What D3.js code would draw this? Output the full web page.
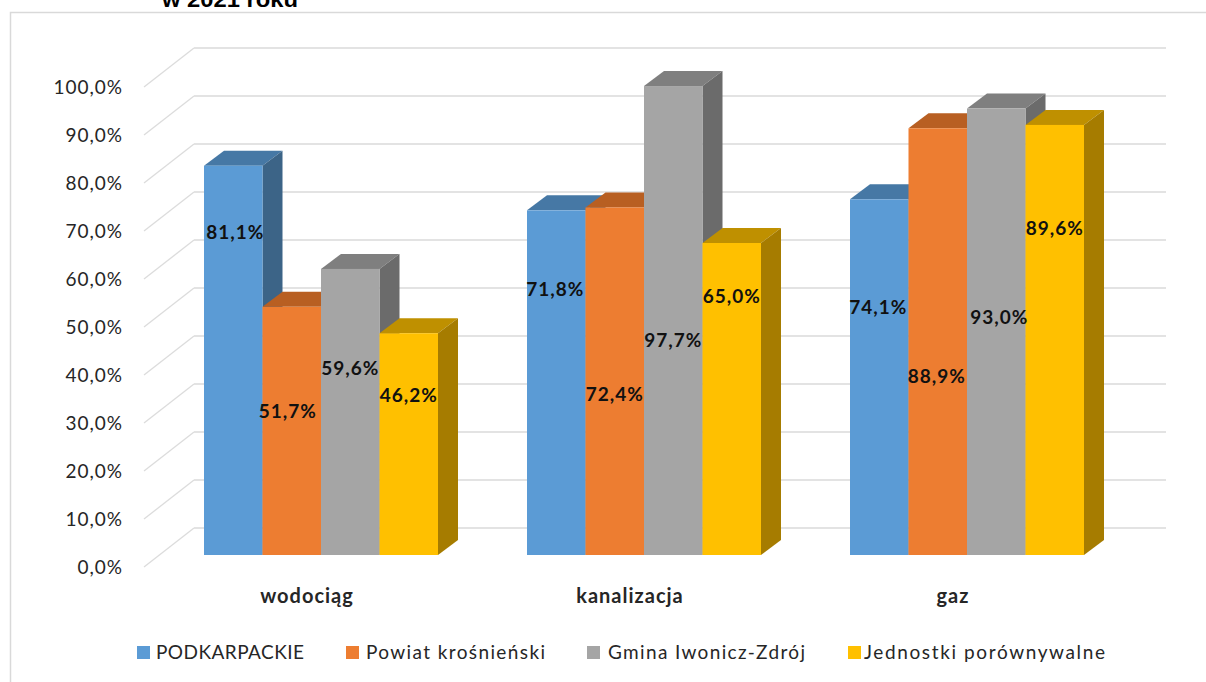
<!DOCTYPE html>
<html>
<head>
<meta charset="utf-8">
<script src="https://cdn.jsdelivr.net/npm/d3@7"></script>
<style>
  html, body { margin: 0; padding: 0; background: #fff; }
  svg { display: block; }
  text { font-family: Lato, sans-serif; fill: #262626; }
</style>
</head>
<body>
<svg id="chart" width="1206" height="682"></svg>
<script>
const categories = ["wodociąg", "kanalizacja", "gaz"];
const seriesNames = ["PODKARPACKIE", "Powiat krośnieński", "Gmina Iwonicz-Zdrój", "Jednostki porównywalne"];
const podkarpackie = [81.1, 71.8, 74.1];
const powiat = [51.7, 72.4, 88.9];
const gmina = [59.6, 97.7, 93.0];
const jednostki = [46.2, 65.0, 89.6];
const tickValues = d3.range(0, 101, 10);

const allSeries = [podkarpackie, powiat, gmina, jednostki];

// the labels were moved by hand in the original, so each has its own height (axis units)
const labelLevels = [
    [67.3, 55.4, 51.5],
    [30.0, 33.5, 37.3],
    [38.8, 44.8, 49.6],
    [33.3, 53.8, 68.1]
];
const labelNudgeX = [
    [2, -1, -1],
    [-4, 0, -1],
    [0, 0, 3],
    [0, 0, 0]
];

const colors = [
    { front: "#5b9bd5", top: "#4678a5", side: "#3c6487" },
    { front: "#ed7d31", top: "#b85f22", side: "#a9561f" },
    { front: "#a5a5a5", top: "#7f7f7f", side: "#6b6b6b" },
    { front: "#ffc000", top: "#bf9000", side: "#a67c00" }
];

const legendX = [137, 346, 587, 848];
const legendTextX = [156, 366, 608, 864];
const legendTextW = [148, 179, 197, 241];

const svg = d3.select("#chart");

const y = d3.scaleLinear().domain([0, 100]).range([567, 87]);
const x0 = d3.scaleBand().domain(categories).range([159.5, 1128.5]);
const x1 = d3.scaleBand().domain(d3.range(4)).range([44.5, 278.5]);

// 3D offsets
const wallDx = 50, wallDy = -39;
const barShiftY = -12;
const depthDx = 20, depthDy = -15;
const wallRight = 1166;

// chart frame, cut by the page edges like in the screenshot
svg.append("path")
    .attr("d", "M10.5,682V12.5H1206")
    .attr("fill", "none")
    .attr("stroke", "#d9d9d9")
    .attr("stroke-width", 1.5);

// title leftover at the top
svg.append("text")
    .attr("x", 162)
    .attr("y", 7)
    .attr("textLength", 136)
    .attr("lengthAdjust", "spacingAndGlyphs")
    .style("font-family", "'Liberation Sans'")
    .style("font-weight", "bold")
    .style("font-size", "22px")
    .style("fill", "#000")
    .text("w 2021 roku");

// grid
const grid = svg.append("g");
tickValues.forEach(t => {
    const backY = y(t) + wallDy;
    grid.append("path")
        .attr("d", d3.line()([[144, y(t)], [144 + wallDx, backY]]))
        .attr("stroke", "#dcdcdc")
        .attr("stroke-width", 1.3);
    grid.append("path")
        .attr("d", d3.line()([[144 + wallDx, backY], [wallRight, backY]]))
        .attr("stroke", "#e3e3e3")
        .attr("stroke-width", 2);
});

// y labels
svg.append("g").selectAll("text")
    .data(tickValues)
    .join("text")
    .attr("x", 123)
    .attr("y", d => y(d))
    .attr("dy", "0.35em")
    .attr("text-anchor", "end")
    .style("font-size", "19px")
    .style("letter-spacing", "1px")
    .text(d => d.toFixed(1).replace(".", ",") + "%");

// bars, drawn left to right so each one covers the neighbour's side
const bars = svg.append("g");
categories.forEach((cat, c) => {
    allSeries.forEach((values, s) => {
        const left = x0(cat) + x1(s);
        const right = left + x1.bandwidth();
        const base = y(0) + barShiftY;
        const top = y(values[c]) + barShiftY;
        const col = colors[s];

        bars.append("path")
            .attr("d", `M${left},${top}L${left + depthDx},${top + depthDy}L${right + depthDx},${top + depthDy}L${right},${top}Z`)
            .attr("fill", col.top);
        bars.append("path")
            .attr("d", `M${right},${top}L${right + depthDx},${top + depthDy}L${right + depthDx},${base + depthDy}L${right},${base}Z`)
            .attr("fill", col.side);
        bars.append("rect")
            .attr("x", left)
            .attr("y", top)
            .attr("width", x1.bandwidth())
            .attr("height", base - top)
            .attr("fill", col.front);
    });
});

// data labels
const labels = svg.append("g");
categories.forEach((cat, c) => {
    allSeries.forEach((values, s) => {
        labels.append("text")
            .attr("x", x0(cat) + x1(s) + x1.bandwidth() / 2 + labelNudgeX[s][c])
            .attr("y", y(labelLevels[s][c]) + barShiftY)
            .attr("dy", "0.35em")
            .attr("text-anchor", "middle")
            .style("font-size", "19px")
            .style("font-weight", "bold")
            .style("letter-spacing", "1px")
            .style("fill", "#111")
            .text(values[c].toFixed(1).replace(".", ",") + "%");
    });
});

// category labels
svg.append("g").selectAll("text")
    .data(categories)
    .join("text")
    .attr("x", d => x0(d) + x0.bandwidth() / 2 - 14)
    .attr("y", 596)
    .attr("dy", "0.35em")
    .attr("text-anchor", "middle")
    .style("font-size", "20px")
    .style("font-weight", "bold")
    .style("letter-spacing", "1px")
    .text(d => d);

// legend
const legend = svg.append("g");
seriesNames.forEach((name, i) => {
    legend.append("rect")
        .attr("x", legendX[i])
        .attr("y", 646)
        .attr("width", 13)
        .attr("height", 13)
        .attr("fill", colors[i].front);
    legend.append("text")
        .attr("x", legendTextX[i])
        .attr("y", 652.5)
        .attr("dy", "0.35em")
        .attr("textLength", legendTextW[i])
        .attr("lengthAdjust", "spacing")
        .style("font-size", "19px")
        .text(name);
});
</script>
</body>
</html>
